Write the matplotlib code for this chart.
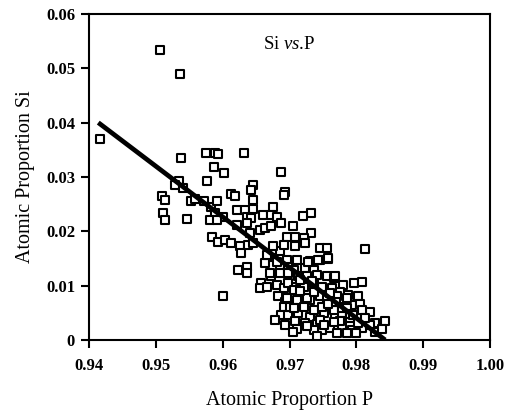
import matplotlib
matplotlib.use("Agg")
import matplotlib.pyplot as plt
from matplotlib.ticker import FuncFormatter

# Atomic proportion P (x) and Si (y)
p_vals = [
    0.9507, 0.9536, 0.9416, 0.9538, 0.9575, 0.9589, 0.9593, 0.9632, 0.9587, 0.9602,
    0.9576, 0.9687, 0.9646, 0.9534, 0.9528, 0.9540, 0.9510, 0.9514, 0.9552, 0.9559,
    0.9572, 0.9613, 0.9619, 0.9643, 0.9646, 0.9693, 0.9691, 0.9511, 0.9514, 0.9547,
    0.9582, 0.9591, 0.9589, 0.9601, 0.9581, 0.9591, 0.9621, 0.9633, 0.9646, 0.9637,
    0.9643, 0.9660, 0.9675, 0.9673, 0.9681, 0.9688, 0.9705, 0.9636, 0.9621, 0.9656,
    0.9641, 0.9663, 0.9673, 0.9584, 0.9593, 0.9604, 0.9613, 0.9626, 0.9638, 0.9628,
    0.9646, 0.9668, 0.9676, 0.9686, 0.9696, 0.9663, 0.9686, 0.9698, 0.9623, 0.9636,
    0.9636, 0.9673, 0.9658, 0.9656, 0.9666, 0.9681, 0.9691, 0.9706, 0.9601, 0.9683,
    0.9693, 0.9706, 0.9691, 0.9688, 0.9678, 0.9698, 0.9708, 0.9711, 0.9732, 0.9720,
    0.9732, 0.9708, 0.9721, 0.9696, 0.9723, 0.9708, 0.9745, 0.9756, 0.9813, 0.9758,
    0.9745, 0.9731, 0.9711, 0.9723, 0.9736, 0.9706, 0.9756, 0.9766, 0.9748, 0.9736,
    0.9780, 0.9796, 0.9808, 0.9763, 0.9776, 0.9788, 0.9803, 0.9793, 0.9806, 0.9820,
    0.9783, 0.9761, 0.9746, 0.9731, 0.9716, 0.9701, 0.9713, 0.9731, 0.9751, 0.9768,
    0.9778, 0.9790, 0.9808, 0.9828, 0.9843, 0.9693, 0.9723, 0.9741, 0.9748, 0.9761,
    0.9778, 0.9793, 0.9808, 0.9820, 0.9828, 0.9736, 0.9771, 0.9786, 0.9800, 0.9676,
    0.9691, 0.9666, 0.9681, 0.9728, 0.9743, 0.9758, 0.9671, 0.9686, 0.9698, 0.9713,
    0.9726, 0.9741, 0.9768, 0.9698, 0.9706, 0.9721, 0.9696, 0.9711, 0.9726, 0.9756,
    0.9771, 0.9786, 0.9706, 0.9721, 0.9736, 0.9748, 0.9766, 0.9778, 0.9746, 0.9776,
    0.9716, 0.9736, 0.9758, 0.9786, 0.9803, 0.9751, 0.9766, 0.9726, 0.9741, 0.9790,
    0.9705, 0.9715, 0.9733, 0.9760, 0.9770, 0.9795, 0.9813, 0.9838,
]
si_vals = [
    0.0534, 0.0490, 0.0370, 0.0334, 0.0344, 0.0344, 0.0342, 0.0344, 0.0319, 0.0307,
    0.0293, 0.0309, 0.0286, 0.0293, 0.0285, 0.0279, 0.0264, 0.0258, 0.0255, 0.0259,
    0.0255, 0.0269, 0.0264, 0.0276, 0.0258, 0.0273, 0.0267, 0.0233, 0.0221, 0.0222,
    0.0245, 0.0255, 0.0233, 0.0227, 0.0220, 0.0221, 0.0239, 0.0239, 0.0241, 0.0227,
    0.0224, 0.0230, 0.0245, 0.0230, 0.0227, 0.0215, 0.0209, 0.0215, 0.0212, 0.0202,
    0.0196, 0.0206, 0.0209, 0.0190, 0.0181, 0.0184, 0.0178, 0.0172, 0.0175, 0.0160,
    0.0178, 0.0153, 0.0166, 0.0163, 0.0147, 0.0141, 0.0135, 0.0135, 0.0129, 0.0135,
    0.0123, 0.0117, 0.0104, 0.0095, 0.0098, 0.0101, 0.0095, 0.0098, 0.0081, 0.0080,
    0.0070, 0.0080, 0.0061, 0.0046, 0.0037, 0.0046, 0.0034, 0.0020, 0.0234, 0.0228,
    0.0196, 0.0190, 0.0187, 0.0190, 0.0178, 0.0172, 0.0170, 0.0169, 0.0167, 0.0149,
    0.0147, 0.0146, 0.0147, 0.0132, 0.0129, 0.0129, 0.0118, 0.0114, 0.0098, 0.0104,
    0.0101, 0.0105, 0.0107, 0.0095, 0.0089, 0.0083, 0.0081, 0.0064, 0.0067, 0.0052,
    0.0061, 0.0067, 0.0080, 0.0074, 0.0080, 0.0061, 0.0049, 0.0043, 0.0049, 0.0043,
    0.0049, 0.0040, 0.0055, 0.0031, 0.0034, 0.0028, 0.0031, 0.0029, 0.0018, 0.0021,
    0.0024, 0.0018, 0.0021, 0.0028, 0.0015, 0.0018, 0.0012, 0.0012, 0.0012, 0.0172,
    0.0175, 0.0156, 0.0144, 0.0144, 0.0147, 0.0150, 0.0123, 0.0123, 0.0123, 0.0117,
    0.0117, 0.0120, 0.0117, 0.0104, 0.0092, 0.0098, 0.0077, 0.0074, 0.0077, 0.0077,
    0.0080, 0.0077, 0.0058, 0.0061, 0.0055, 0.0061, 0.0055, 0.0058, 0.0037, 0.0034,
    0.0110, 0.0088, 0.0066, 0.0058, 0.0032, 0.0028, 0.0033, 0.0026, 0.0008, 0.0048,
    0.0015, 0.0090, 0.0108, 0.0086, 0.0070, 0.0045, 0.0040, 0.0020,
]

fit_p = [0.9414, 0.9843]
fit_si = [0.0400, 0.0000]

x_ticks = [0.94, 0.95, 0.96, 0.97, 0.98, 0.99, 1.00]
y_ticks = [0.0, 0.01, 0.02, 0.03, 0.04, 0.05, 0.06]

plt.rcParams['font.family'] = ['Liberation Serif', 'DejaVu Serif']
plt.rcParams['mathtext.fontset'] = 'custom'
plt.rcParams['mathtext.rm'] = 'Liberation Serif'
plt.rcParams['mathtext.it'] = 'Liberation Serif:italic'

fig = plt.figure(figsize=(5.17, 4.11), dpi=100)
ax = fig.add_axes([0.172, 0.173, 0.776, 0.793])

ax.scatter(p_vals, si_vals, marker='s', s=34, facecolors='white',
           edgecolors='black', linewidths=1.5, zorder=3)
ax.plot(fit_p, fit_si, color='black', linewidth=3.4, solid_capstyle='butt', zorder=4)

ax.set_xlim(0.94, 1.00)
ax.set_ylim(0.0, 0.06)
ax.set_xticks(x_ticks)
ax.set_yticks(y_ticks)
ax.xaxis.set_major_formatter(FuncFormatter(lambda v, _: f"{v:.2f}"))
ax.yaxis.set_major_formatter(FuncFormatter(lambda v, _: "0" if abs(v) < 1e-9 else f"{v:.2f}"))
ax.tick_params(axis='both', direction='out', length=6, width=1.5, labelsize=12, pad=4)
ax.tick_params(axis='x', pad=7)
for lab in ax.get_xticklabels() + ax.get_yticklabels():
    lab.set_fontweight('bold')
for sp in ax.spines.values():
    sp.set_linewidth(1.5)

ax.set_xlabel('Atomic Proportion P', fontsize=14.5, labelpad=12)
ax.set_ylabel('Atomic Proportion Si', fontsize=14.5, labelpad=8)

ax.text(0.5, 0.905, r'Si $\mathit{vs}$.P', transform=ax.transAxes, ha='center',
        va='center', fontsize=13.5)

fig.savefig('out.png', dpi=100)
